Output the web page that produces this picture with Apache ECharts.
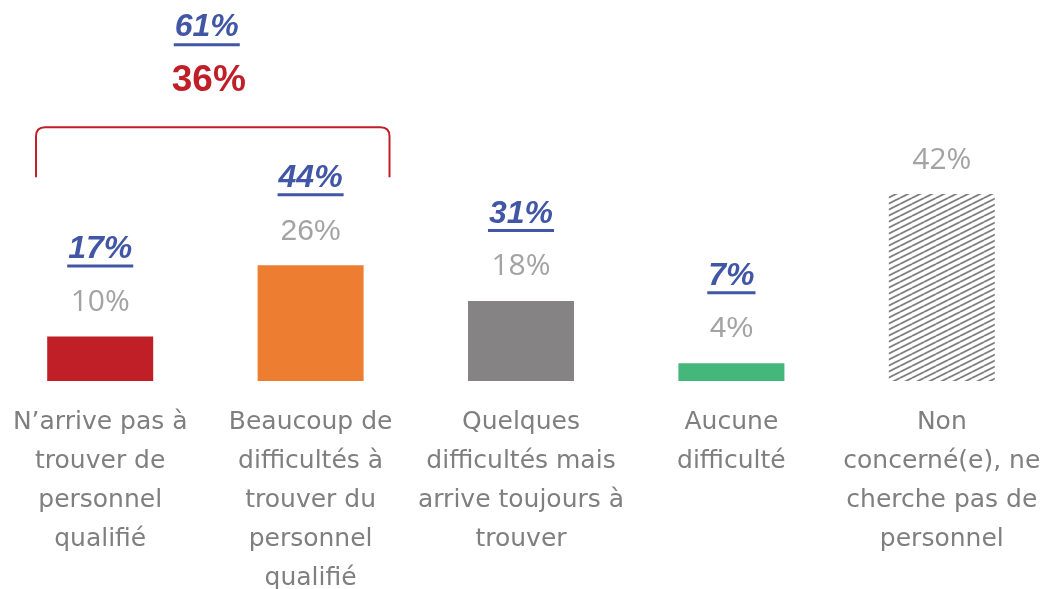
<!DOCTYPE html>
<html>
<head>
<meta charset="utf-8">
<script src="https://cdn.jsdelivr.net/npm/echarts@6/dist/echarts.min.js"></script>
<style>
html,body{margin:0;padding:0;background:#fff;}
#chart{width:1047px;height:589px;}
</style>
</head>
<body>
<div id="chart"></div>
<script>
// ---- data ----
var categories = [
  "N’arrive pas à\ntrouver de\npersonnel\nqualifié",
  "Beaucoup de\ndifficultés à\ntrouver du\npersonnel\nqualifié",
  "Quelques\ndifficultés mais\narrive toujours à\ntrouver",
  "Aucune\ndifficulté",
  "Non\nconcerné(e), ne\ncherche pas de\npersonnel"
];
var values = [10, 26, 18, 4, 42];
var blueValues = [17, 44, 31, 7, null];
var groupRange = [0, 1];
var groupBlueLabel = "61%";
var groupRedLabel = "36%";

// ---- styles ----
var barColors = ['#C01F27', '#ED7D31', '#858383', '#45B77A', null];
var labelFonts = ['Open Sans', 'Liberation Sans', 'Open Sans', 'Liberation Sans', 'Open Sans'];
var BLUE = '#4256A6';
var RED = '#C01F27';

function makeHatch() {
  var c = document.createElement('canvas');
  c.width = 12; c.height = 6;
  var ctx = c.getContext('2d');
  ctx.fillStyle = '#ffffff';
  ctx.fillRect(0, 0, 12, 6);
  ctx.strokeStyle = '#7e7e7e';
  ctx.lineWidth = 1.8;
  for (var k = -1; k <= 1; k++) {
    ctx.beginPath();
    ctx.moveTo(0, 6 + k * 6);
    ctx.lineTo(12, 0 + k * 6);
    ctx.stroke();
  }
  return c;
}
var hatch = makeHatch();

var measureCtx = document.createElement('canvas').getContext('2d');
function textWidth(t, font) { measureCtx.font = font; return measureCtx.measureText(t).width; }

var blueFont = 'italic bold 32px "Liberation Sans"';

var barData = values.map(function (v, i) {
  return {
    value: v,
    itemStyle: { color: barColors[i] ? barColors[i] : { image: hatch, repeat: 'repeat' } },
    label: { fontFamily: labelFonts[i] }
  };
});

var blueData = [];
blueValues.forEach(function (b, i) {
  if (b !== null) blueData.push([i, values[i], b]);
});

var chart = echarts.init(document.getElementById('chart'));
chart.setOption({
  animation: false,
  grid: { left: -5, right: 0, top: 114, bottom: 208, outerBoundsMode: 'none', containLabel: false },
  xAxis: {
    type: 'category',
    data: categories,
    axisLine: { show: false },
    axisTick: { show: false },
    axisLabel: {
      interval: 0,
      margin: 22,
      fontFamily: 'DejaVu Sans',
      fontSize: 25,
      lineHeight: 39,
      color: '#7f7f7f',
      align: 'center'
    }
  },
  yAxis: { type: 'value', min: 0, max: 60, show: false, splitLine: { show: false } },
  series: [
    {
      type: 'bar',
      data: barData,
      barWidth: 106,
      label: {
        show: true,
        position: 'top',
        distance: 19,
        formatter: '{c}%',
        fontSize: 30,
        color: '#a3a3a3'
      }
    },
    {
      type: 'custom',
      clip: false,
      data: blueData,
      encode: { x: 0, y: 1 },
      renderItem: function (params, api) {
        var p = api.coord([api.value(0), api.value(1)]);
        var txt = api.value(2) + '%';
        var w = textWidth(txt, blueFont);
        return {
          type: 'group',
          children: [
            {
              type: 'text',
              style: {
                text: txt, x: p[0], y: p[1] - 87,
                font: blueFont, fill: BLUE,
                align: 'center', verticalAlign: 'middle'
              }
            },
            {
              type: 'rect',
              shape: { x: p[0] - w / 2 - 1, y: p[1] - 72, width: w + 2, height: 3 },
              style: { fill: BLUE }
            }
          ]
        };
      }
    },
    {
      type: 'custom',
      clip: false,
      data: [[groupRange[0], groupRange[1], values[groupRange[1]]]],
      encode: { x: [0, 1], y: 2 },
      renderItem: function (params, api) {
        var a = api.coord([api.value(0), 0]);
        var b = api.coord([api.value(1), api.value(2)]);
        var band = api.size([1, 0])[0];
        var x1 = a[0] - band * 0.305;
        var x2 = b[0] + band * 0.375;
        var yTop = b[1] - 138;
        var yBot = yTop + 50;
        var r = 9;
        var mid = (x1 + x2) / 2 - 6;
        return {
          type: 'group',
          children: [
            {
              type: 'path',
              shape: {
                pathData: 'M' + x1 + ' ' + yBot +
                  ' L' + x1 + ' ' + (yTop + r) +
                  ' Q' + x1 + ' ' + yTop + ' ' + (x1 + r) + ' ' + yTop +
                  ' L' + (x2 - r) + ' ' + yTop +
                  ' Q' + x2 + ' ' + yTop + ' ' + x2 + ' ' + (yTop + r) +
                  ' L' + x2 + ' ' + yBot
              },
              style: { stroke: RED, lineWidth: 2, fill: null }
            },
            {
              type: 'text',
              style: {
                text: groupRedLabel, x: mid + 2, y: yTop - 47,
                font: 'bold 37px "Liberation Sans"', fill: RED,
                align: 'center', verticalAlign: 'middle'
              }
            },
            {
              type: 'text',
              style: {
                text: groupBlueLabel, x: mid, y: yTop - 100,
                font: blueFont, fill: BLUE,
                align: 'center', verticalAlign: 'middle'
              }
            },
            {
              type: 'rect',
              shape: {
                x: mid - textWidth(groupBlueLabel, blueFont) / 2 - 1,
                y: yTop - 84,
                width: textWidth(groupBlueLabel, blueFont) + 2, height: 3
              },
              style: { fill: BLUE }
            }
          ]
        };
      }
    }
  ]
});
</script>
</body>
</html>
